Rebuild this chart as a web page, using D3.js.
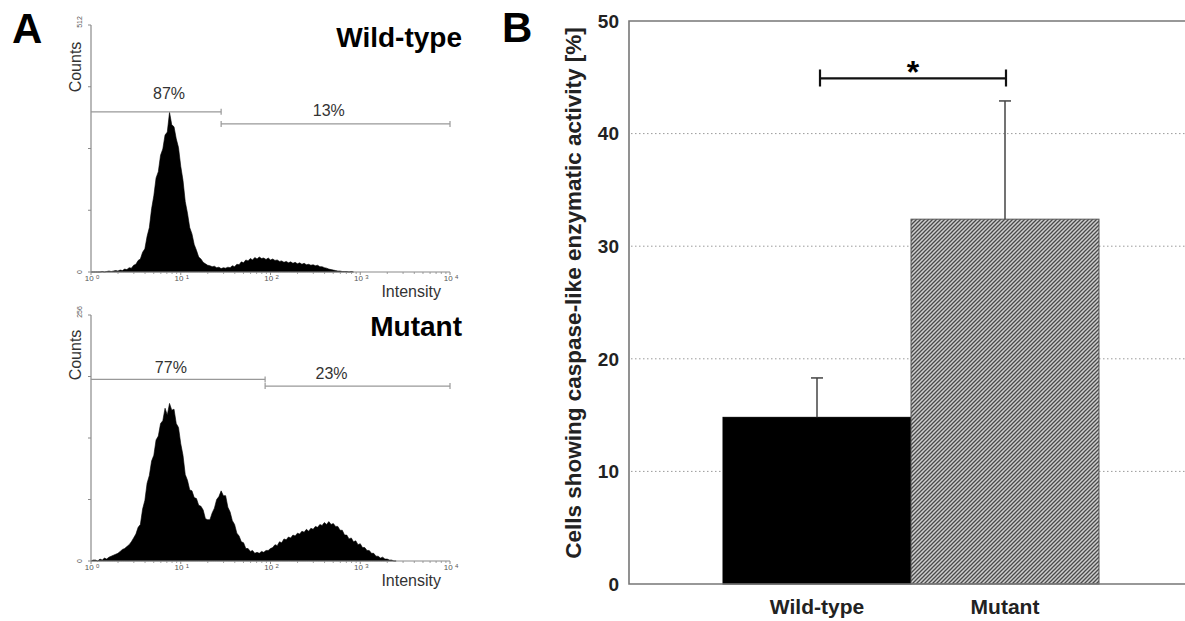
<!DOCTYPE html>
<html>
<head>
<meta charset="utf-8">
<script src="https://cdn.jsdelivr.net/npm/d3@7"></script>
<style>
  body { margin: 0; background: #fff; }
  svg { display: block; }
  text { font-family: "Liberation Sans", Arial, sans-serif; }
</style>
</head>
<body>
<svg id="fig" width="1185" height="621"></svg>
<script>
'use strict';

/* panel A: flow cytometry histograms, counts per log-intensity channel */
var binStep = 0.025;    // decades per channel, first channel at 10^0

var wtCounts = [
    0, 0, 0, 0, 0, 1, 0, 1, 2, 1,
    2, 3, 2, 4, 3, 6, 5, 9, 8, 14,
    16, 24, 27, 41, 48, 74, 92, 131, 158, 195,
    208, 242, 255, 284, 290, 331, 305, 301, 276, 258,
    219, 190, 146, 122, 92, 79, 57, 45, 31, 27,
    20, 17, 14, 13, 11, 12, 9, 10, 7, 9,
    8, 10, 9, 13, 11, 16, 15, 21, 19, 25,
    23, 28, 25, 30, 27, 31, 28, 29, 26, 29,
    25, 27, 24, 25, 22, 23, 20, 22, 19, 21,
    18, 20, 17, 19, 16, 18, 15, 16, 14, 15,
    13, 14, 11, 11, 9, 8, 6, 5, 4, 3,
    2, 2, 1, 1, 1, 0, 1, 0
];

var mutCounts = [
    0, 1, 1, 0, 2, 1, 3, 2, 4, 5,
    6, 7, 8, 10, 12, 13, 15, 17, 20, 24,
    28, 35, 38, 54, 63, 81, 89, 104, 110, 126,
    130, 143, 146, 159, 152, 164, 157, 158, 143, 139,
    122, 110, 90, 84, 74, 73, 66, 65, 58, 57,
    53, 44, 43, 43, 50, 55, 64, 67, 73, 68,
    68, 56, 51, 42, 38, 29, 26, 20, 19, 13,
    13, 10, 11, 8, 9, 8, 10, 9, 11, 11,
    13, 14, 17, 16, 20, 19, 23, 22, 25, 24,
    27, 26, 29, 28, 31, 30, 33, 31, 34, 33,
    36, 35, 38, 37, 40, 38, 41, 38, 39, 36,
    36, 32, 32, 27, 27, 23, 24, 20, 21, 17,
    18, 14, 14, 11, 11, 8, 8, 5, 5, 3,
    4, 2, 2, 1, 1, 0, 0
];

var decades = [0, 1, 2, 3, 4];

// gates in decades, level and label anchor in counts
var wtGates = [
    {from: 0, to: 1.45, level: 332, label: '87%', labelAt: 0.87, labelLevel: 359},
    {from: 1.45, to: 4, level: 307, label: '13%', labelAt: 2.65, labelLevel: 323}
];
var mutGates = [
    {from: 0, to: 1.94, level: 189, label: '77%', labelAt: 0.89, labelLevel: 196},
    {from: 1.94, to: 4, level: 182, label: '23%', labelAt: 2.68, labelLevel: 189}
];

/* panel B: caspase-like activity */
var groups = ['Wild-type', 'Mutant'];
var meanValues = [14.8, 32.4];
var errValues = [3.5, 10.5];
var yTicks = [0, 10, 20, 30, 40, 50];
var sigBracket = {from: 'Wild-type', to: 'Mutant', level: 44.9, label: '*'};


var svg = d3.select('#fig');
var axisGrey = '#8a8a8a';

// hatch for the mutant bar
var pat = svg.append('defs').append('pattern')
    .attr('id', 'hatch')
    .attr('patternUnits', 'userSpaceOnUse')
    .attr('width', 4)
    .attr('height', 4);
pat.append('rect').attr('width', 4).attr('height', 4).attr('fill', '#cfcfcf');
pat.append('path')
    .attr('d', 'M-1,1 l2,-2 M0,4 l4,-4 M3,5 l2,-2')
    .attr('stroke', '#4a4a4a')
    .attr('stroke-width', 1.3);

// panel letters
svg.append('text').attr('x', 12).attr('y', 43)
    .style('font-size', '42px').style('font-weight', 'bold').text('A');
svg.append('text').attr('x', 502).attr('y', 42)
    .style('font-size', '42px').style('font-weight', 'bold').text('B');

var xA = d3.scaleLinear().domain([0, 4]).range([91, 450]);

function drawHistogram(counts, yMax, top, base, gates, title, titleBase, labelBase, countsY) {
    var y = d3.scaleLinear().domain([0, yMax]).range([base, top]);
    var g = svg.append('g');

    // filled histogram
    var area = d3.area()
        .x(function(d, i) { return xA(i * binStep); })
        .y0(y(0))
        .y1(function(d) { return y(d); });
    g.append('path')
        .datum(counts)
        .attr('d', area)
        .attr('fill', '#000')
        .attr('stroke', '#000')
        .attr('stroke-width', 0.6);

    // y axis with four intervals
    var yTickVals = d3.range(0, 5).map(function(k) { return yMax * k / 4; });
    g.append('line')
        .attr('x1', xA(0)).attr('x2', xA(0))
        .attr('y1', top).attr('y2', base)
        .attr('stroke', axisGrey).attr('stroke-width', 1.2);
    g.selectAll('.ytick').data(yTickVals).enter().append('line')
        .attr('x1', xA(0) - 3).attr('x2', xA(0))
        .attr('y1', function(d) { return y(d); })
        .attr('y2', function(d) { return y(d); })
        .attr('stroke', axisGrey);
    [0, yMax].forEach(function(v) {
        g.append('text')
            .attr('transform', 'translate(' + [82, v === 0 ? y(v) : y(v) - 3] + ') rotate(-90)')
            .attr('text-anchor', 'middle')
            .style('font-size', '7px').style('fill', '#555')
            .text(v);
    });

    // x axis, log decades with minor ticks
    g.append('line')
        .attr('x1', xA(0)).attr('x2', xA(4))
        .attr('y1', base).attr('y2', base)
        .attr('stroke', axisGrey).attr('stroke-width', 1.2);
    var minor = [];
    decades.slice(0, 4).forEach(function(d) {
        for(var m = 2; m < 10; m++) minor.push(d + Math.log10(m));
    });
    g.selectAll('.minor').data(minor).enter().append('line')
        .attr('x1', function(d) { return xA(d); })
        .attr('x2', function(d) { return xA(d); })
        .attr('y1', base).attr('y2', base + 2)
        .attr('stroke', axisGrey).attr('stroke-width', 0.8);
    g.selectAll('.major').data(decades).enter().append('line')
        .attr('x1', function(d) { return xA(d); })
        .attr('x2', function(d) { return xA(d); })
        .attr('y1', base).attr('y2', base + 3)
        .attr('stroke', axisGrey);
    var lab = g.selectAll('.xlab').data(decades).enter().append('text')
        .attr('x', function(d) { return xA(d) + 1; })
        .attr('y', base + 9)
        .attr('text-anchor', 'middle')
        .style('font-size', '8px').style('fill', '#555');
    lab.append('tspan').text('10 ');
    lab.append('tspan').attr('dy', -2).style('font-size', '6px').text(function(d) { return d; });

    // gates
    gates.forEach(function(gt) {
        var gy = y(gt.level);
        g.append('line')
            .attr('x1', xA(gt.from)).attr('x2', xA(gt.to))
            .attr('y1', gy).attr('y2', gy)
            .attr('stroke', '#999').attr('stroke-width', 1.4);
        [gt.from, gt.to].forEach(function(e) {
            if(e === 0) return;
            g.append('line')
                .attr('x1', xA(e)).attr('x2', xA(e))
                .attr('y1', gy - 3).attr('y2', gy + 3)
                .attr('stroke', '#999').attr('stroke-width', 1.2);
        });
        g.append('text')
            .attr('x', xA(gt.labelAt)).attr('y', y(gt.labelLevel))
            .attr('text-anchor', 'middle')
            .style('font-size', '16px').style('fill', '#333')
            .text(gt.label);
    });

    g.append('text')
        .attr('transform', 'translate(' + [81, countsY] + ') rotate(-90)')
        .attr('text-anchor', 'middle')
        .style('font-size', '16px').style('fill', '#333')
        .text('Counts');
    g.append('text')
        .attr('x', 441).attr('y', labelBase)
        .attr('text-anchor', 'end')
        .style('font-size', '16px').style('fill', '#333')
        .text('Intensity');
    g.append('text')
        .attr('x', 462).attr('y', titleBase)
        .attr('text-anchor', 'end')
        .style('font-size', '28px').style('font-weight', 'bold')
        .text(title);
}

drawHistogram(wtCounts, 512, 25, 272, wtGates, 'Wild-type', 47, 297, 67);
drawHistogram(mutCounts, 256, 315, 561, mutGates, 'Mutant', 336, 586, 355);


/* panel B */
var xB = d3.scaleBand().domain(groups).range([629, 1193]).paddingInner(0).paddingOuter(0.5);
var yB = d3.scaleLinear().domain([0, 50]).range([584, 21]);
var gB = svg.append('g');

// dotted grid
gB.selectAll('.grid').data(yTicks.slice(1, -1)).enter().append('line')
    .attr('x1', 631).attr('x2', 1185)
    .attr('y1', function(d) { return yB(d); })
    .attr('y2', function(d) { return yB(d); })
    .attr('stroke', '#9a9a9a').attr('stroke-width', 1)
    .attr('stroke-dasharray', '1.5,2.5');

// bars
gB.selectAll('.bar').data(groups).enter().append('rect')
    .attr('x', function(d) { return xB(d); })
    .attr('y', function(d, i) { return yB(meanValues[i]); })
    .attr('width', xB.bandwidth())
    .attr('height', function(d, i) { return yB(0) - yB(meanValues[i]); })
    .attr('fill', function(d, i) { return i === 0 ? '#000' : 'url(#hatch)'; })
    .attr('stroke', function(d, i) { return i === 0 ? '#000' : '#555'; })
    .attr('stroke-width', 1);

// error bars (upper only)
groups.forEach(function(d, i) {
    var cx = xB(d) + xB.bandwidth() / 2,
        y0 = yB(meanValues[i]),
        y1 = yB(meanValues[i] + errValues[i]);
    gB.append('line').attr('x1', cx).attr('x2', cx).attr('y1', y0).attr('y2', y1)
        .attr('stroke', '#444').attr('stroke-width', 1.5);
    gB.append('line').attr('x1', cx - 6).attr('x2', cx + 6).attr('y1', y1).attr('y2', y1)
        .attr('stroke', '#444').attr('stroke-width', 1.5);
});

// frame
gB.append('path')
    .attr('d', 'M1185,' + yB(50) + 'H629V' + yB(0) + 'H1185')
    .attr('fill', 'none')
    .attr('stroke', '#777').attr('stroke-width', 1.6);

// y tick labels
gB.selectAll('.ylab').data(yTicks).enter().append('text')
    .attr('x', 619)
    .attr('y', function(d) { return yB(d); })
    .attr('dy', '0.36em')
    .attr('text-anchor', 'end')
    .style('font-size', '19px').style('font-weight', 'bold').style('fill', '#222')
    .text(function(d) { return d; });

// x labels
gB.selectAll('.xlab').data(groups).enter().append('text')
    .attr('x', function(d) { return xB(d) + xB.bandwidth() / 2; })
    .attr('y', 614)
    .attr('text-anchor', 'middle')
    .style('font-size', '21px').style('font-weight', 'bold').style('fill', '#222')
    .text(function(d) { return d; });

// y title
gB.append('text')
    .attr('transform', 'translate(581,293) rotate(-90)')
    .attr('text-anchor', 'middle')
    .style('font-size', '22.5px').style('font-weight', 'bold').style('fill', '#222')
    .text('Cells showing caspase-like enzymatic activity [%]');

// significance bracket
var bx0 = xB(sigBracket.from) + xB.bandwidth() / 2 + 3,
    bx1 = xB(sigBracket.to) + xB.bandwidth() / 2 + 1,
    by = yB(sigBracket.level);
gB.append('path')
    .attr('d', 'M' + bx0 + ',' + (by - 9) + 'V' + (by + 8) +
        'M' + bx0 + ',' + by + 'H' + bx1 +
        'M' + bx1 + ',' + (by - 9) + 'V' + (by + 8))
    .attr('fill', 'none')
    .attr('stroke', '#111').attr('stroke-width', 2.2);
gB.append('text')
    .attr('x', (bx0 + bx1) / 2).attr('y', by + 5)
    .attr('text-anchor', 'middle')
    .style('font-size', '32px').style('font-weight', 'bold')
    .text(sigBracket.label);
</script>
</body>
</html>
